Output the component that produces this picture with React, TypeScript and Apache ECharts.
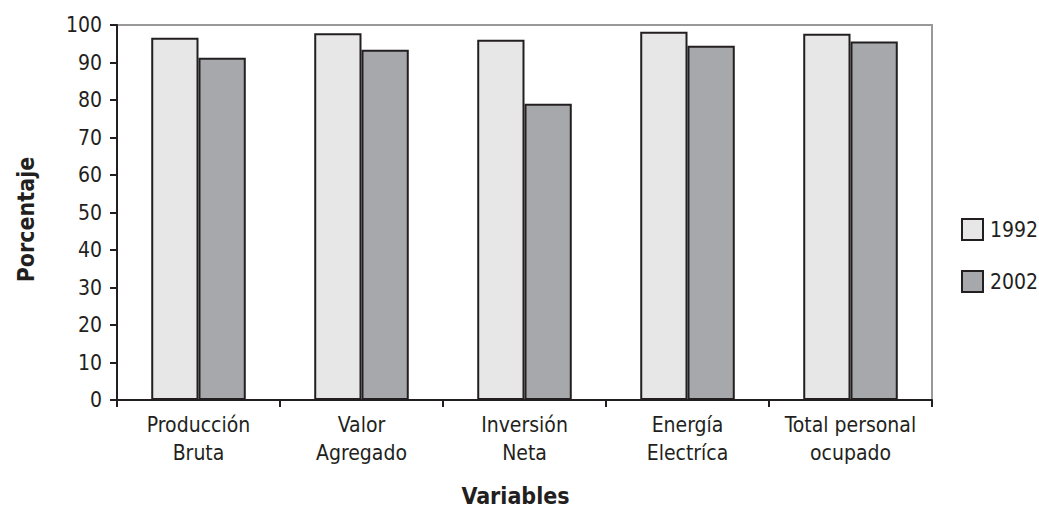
import React, { useEffect, useRef } from "react";
import * as echarts from "echarts";

const categories = [
  "Producción\nBruta",
  "Valor\nAgregado",
  "Inversión\nNeta",
  "Energía\nElectríca",
  "Total personal\nocupado",
];
const values1992 = [96.6, 97.8, 96.1, 98.2, 97.7];
const values2002 = [91.3, 93.4, 79.0, 94.5, 95.6];
const seriesNames = ["1992", "2002"];

const FONT = "'DejaVu Sans Condensed', 'Roboto', sans-serif";

export default function App() {
  const ref = useRef<HTMLDivElement>(null);
  useEffect(() => {
    if (!ref.current) return;
    const chart = echarts.init(ref.current, null, { renderer: "svg" });
    chart.setOption({
      animation: false,
      backgroundColor: "#ffffff",
      textStyle: { fontFamily: FONT },
      grid: {
        left: 117,
        top: 25,
        right: 107,
        bottom: 110,
        show: true,
        borderColor: "#999999",
        borderWidth: 2,
      },
      legend: {
        orient: "vertical",
        left: 961,
        top: 218,
        padding: 0,
        itemWidth: 21,
        itemHeight: 21,
        itemGap: 29,
        icon: "rect",
        textStyle: { fontFamily: FONT, fontSize: 21, color: "#231f20", padding: [0, 0, 0, 2] },
        data: seriesNames,
      },
      xAxis: {
        type: "category",
        data: categories,
        name: "Variables",
        nameLocation: "middle",
        nameGap: 84,
        nameTextStyle: {
          fontFamily: FONT,
          fontSize: 23,
          fontWeight: "bold",
          color: "#231f20",
          padding: [0, 18, 0, 0],
        },
        axisLine: { lineStyle: { color: "#231f20", width: 2 } },
        axisTick: { show: true, length: 7, lineStyle: { color: "#231f20", width: 2 } },
        axisLabel: {
          fontFamily: FONT,
          fontSize: 21,
          color: "#231f20",
          lineHeight: 28,
          margin: 11,
          interval: 0,
        },
      },
      yAxis: {
        type: "value",
        min: 0,
        max: 100,
        interval: 10,
        name: "Porcentaje",
        nameLocation: "middle",
        nameGap: 80,
        nameRotate: 90,
        nameTextStyle: {
          fontFamily: FONT,
          fontSize: 23,
          fontWeight: "bold",
          color: "#231f20",
          padding: [0, 14, 0, 0],
        },
        axisLine: { show: true, lineStyle: { color: "#231f20", width: 2 } },
        axisTick: { show: true, length: 7, lineStyle: { color: "#231f20", width: 2 } },
        axisLabel: { fontFamily: FONT, fontSize: 21, color: "#231f20", margin: 15 },
        splitLine: { show: false },
      },
      series: [
        {
          name: seriesNames[0],
          type: "bar",
          data: values1992,
          barGap: "0%",
          barCategoryGap: "42%",
          itemStyle: { color: "#e6e7e6", borderColor: "#231f20", borderWidth: 2 },
        },
        {
          name: seriesNames[1],
          type: "bar",
          data: values2002,
          itemStyle: { color: "#a7a8ab", borderColor: "#231f20", borderWidth: 2 },
        },
      ],
    });
    return () => chart.dispose();
  }, []);
  return (
    <div
      ref={ref}
      style={{ position: "fixed", left: 0, top: 0, width: 1039, height: 512 }}
    />
  );
}
